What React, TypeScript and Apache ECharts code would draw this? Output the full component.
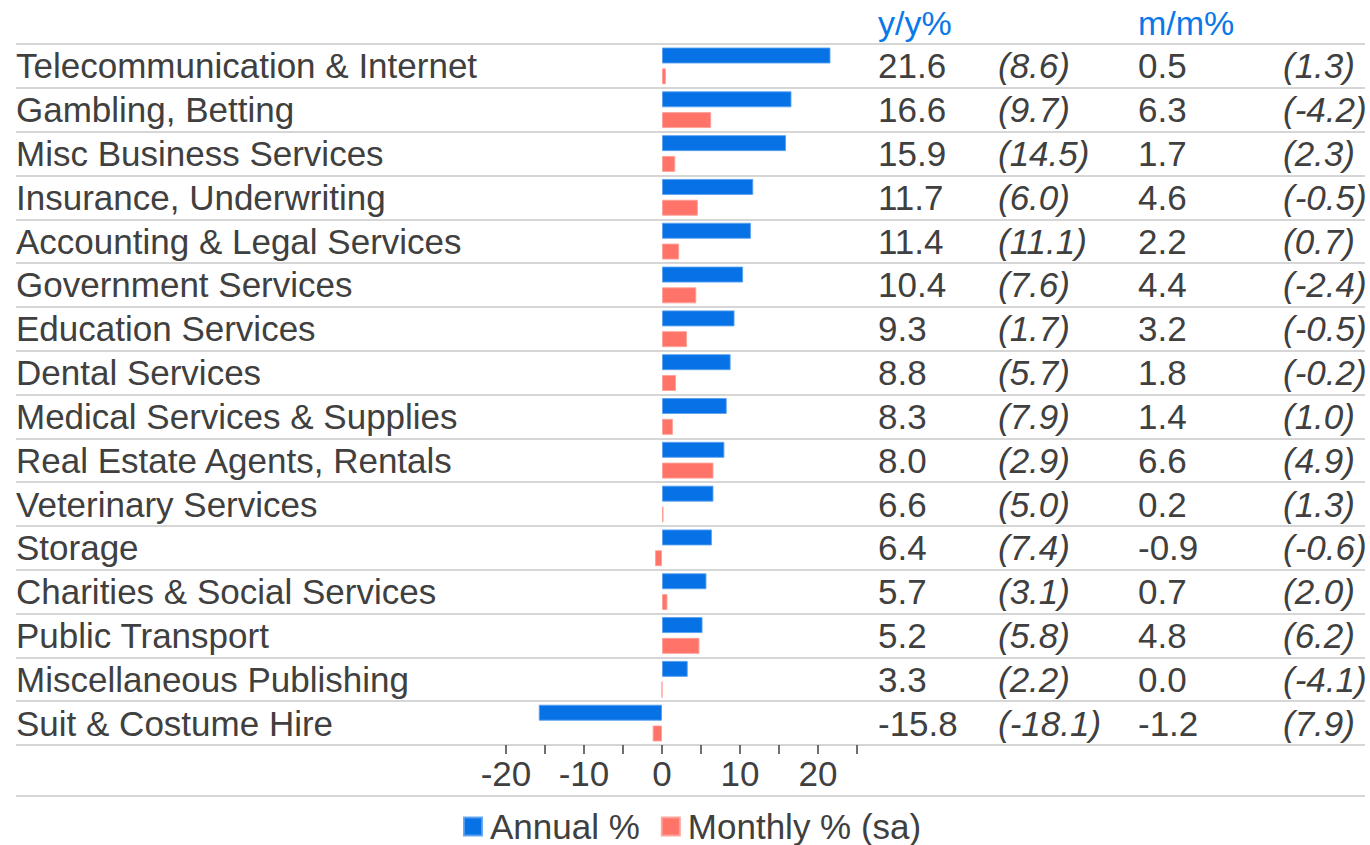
import React, { useEffect, useRef } from "react";
import * as echarts from "echarts";

const categories = [
  "Telecommunication & Internet",
  "Gambling, Betting",
  "Misc Business Services",
  "Insurance, Underwriting",
  "Accounting & Legal Services",
  "Government Services",
  "Education Services",
  "Dental Services",
  "Medical Services & Supplies",
  "Real Estate Agents, Rentals",
  "Veterinary Services",
  "Storage",
  "Charities & Social Services",
  "Public Transport",
  "Miscellaneous Publishing",
  "Suit & Costume Hire",
];
const annual = [21.6, 16.6, 15.9, 11.7, 11.4, 10.4, 9.3, 8.8, 8.3, 8.0, 6.6, 6.4, 5.7, 5.2, 3.3, -15.8];
const annualPrev = [8.6, 9.7, 14.5, 6.0, 11.1, 7.6, 1.7, 5.7, 7.9, 2.9, 5.0, 7.4, 3.1, 5.8, 2.2, -18.1];
const monthly = [0.5, 6.3, 1.7, 4.6, 2.2, 4.4, 3.2, 1.8, 1.4, 6.6, 0.2, -0.9, 0.7, 4.8, 0.0, -1.2];
const monthlyPrev = [1.3, -4.2, 2.3, -0.5, 0.7, -2.4, -0.5, -0.2, 1.0, 4.9, 1.3, -0.6, 2.0, 6.2, -4.1, 7.9];
const headers = ["y/y%", "m/m%"];
const seriesNames = ["Annual %", "Monthly % (sa)"];

const FONT = '"Liberation Sans", Arial, sans-serif';
const FS = 35;
const TEXT = "#404040";
const BLUE = "#0672e6";
const SALMON = "#ff7369";
const HEAD = "#0a78e8";
const LINE = "#c8c8c8";

const fmt = (v: number) => v.toFixed(1);
const paren = (v: number) => `(${v.toFixed(1)})`;

export default function App() {
  const ref = useRef<HTMLDivElement>(null);
  useEffect(() => {
    if (!ref.current) return;
    const chart = echarts.init(ref.current, null, { renderer: "svg" });
    const colAxis = (data: string[], margin: number, italic: boolean) => ({
      type: "category",
      gridIndex: 0,
      position: "right",
      inverse: true,
      data,
      axisLine: { show: false },
      axisTick: { show: false },
      splitLine: { show: false },
      axisLabel: {
        show: true,
        interval: 0,
        align: "left",
        margin,
        fontSize: FS,
        fontFamily: FONT,
        color: TEXT,
        fontStyle: italic ? "italic" : "normal",
      },
    });
    chart.setOption({
      animation: false,
      backgroundColor: "#ffffff",
      textStyle: { fontFamily: FONT },
      grid: [
        { left: 506, width: 351, top: 44, height: 701 },
        { left: 16, width: 1349, top: 44, height: 701 },
      ],
      legend: {
        data: seriesNames,
        left: 458,
        top: 804,
        icon: "rect",
        itemWidth: 18,
        itemHeight: 18,
        itemGap: 21,
        textStyle: {
          fontSize: FS,
          lineHeight: 32,
          color: TEXT,
          fontFamily: FONT,
          padding: [0, 0, 0, 3],
        },
      },
      xAxis: [
        {
          type: "value",
          gridIndex: 0,
          min: -20,
          max: 25,
          interval: 5,
          axisLine: { show: false },
          axisTick: { show: true, length: 9, lineStyle: { color: TEXT, width: 1.5 } },
          splitLine: { show: false },
          axisLabel: {
            margin: 11,
            fontSize: FS,
            fontFamily: FONT,
            color: TEXT,
            showMaxLabel: true,
            showMinLabel: true,
            formatter: (v: number) => (v % 10 === 0 ? String(v) : ""),
          },
        },
        { type: "value", gridIndex: 1, show: false, min: 0, max: 1 },
      ],
      yAxis: [
        {
          type: "category",
          gridIndex: 0,
          inverse: true,
          data: categories,
          axisLine: { show: false },
          axisTick: { show: false },
          axisLabel: { show: false },
          splitLine: { show: false },
        },
        colAxis(annual.map(fmt), 21, false),
        colAxis(annualPrev.map(paren), 141, true),
        colAxis(monthly.map(fmt), 281, false),
        colAxis(monthlyPrev.map(paren), 426, true),
        {
          type: "category",
          gridIndex: 1,
          inverse: true,
          data: categories,
          axisLine: { show: false },
          axisTick: { show: false },
          splitLine: { show: true, interval: 0, lineStyle: { color: LINE, width: 1.5 } },
          axisLabel: {
            show: true,
            interval: 0,
            align: "left",
            margin: 0,
            fontSize: FS,
            fontFamily: FONT,
            color: TEXT,
          },
        },
      ],
      series: [
        {
          name: seriesNames[0],
          type: "bar",
          xAxisIndex: 0,
          yAxisIndex: 0,
          data: annual,
          barWidth: 16,
          barGap: "30%",
          itemStyle: { color: BLUE, borderColor: "rgba(90,160,240,0.9)", borderWidth: 1 },
        },
        {
          name: seriesNames[1],
          type: "bar",
          xAxisIndex: 0,
          yAxisIndex: 0,
          data: monthly,
          barWidth: 16,
          barGap: "30%",
          itemStyle: { color: SALMON, borderColor: "rgba(255,160,150,0.9)", borderWidth: 1 },
        },
      ],
      graphic: [
        {
          type: "text",
          left: 878,
          top: 6,
          style: { text: headers[0], fontSize: 34, fontFamily: FONT, fill: HEAD },
        },
        {
          type: "text",
          left: 1138,
          top: 6,
          style: { text: headers[1], fontSize: 34, fontFamily: FONT, fill: HEAD },
        },
        {
          type: "line",
          shape: { x1: 16, y1: 796, x2: 1365, y2: 796 },
          style: { stroke: LINE, lineWidth: 1.5 },
        },
      ],
    });
    return () => chart.dispose();
  }, []);
  return (
    <div
      ref={ref}
      style={{ position: "absolute", left: 0, top: 0, width: 1370, height: 845 }}
    />
  );
}
